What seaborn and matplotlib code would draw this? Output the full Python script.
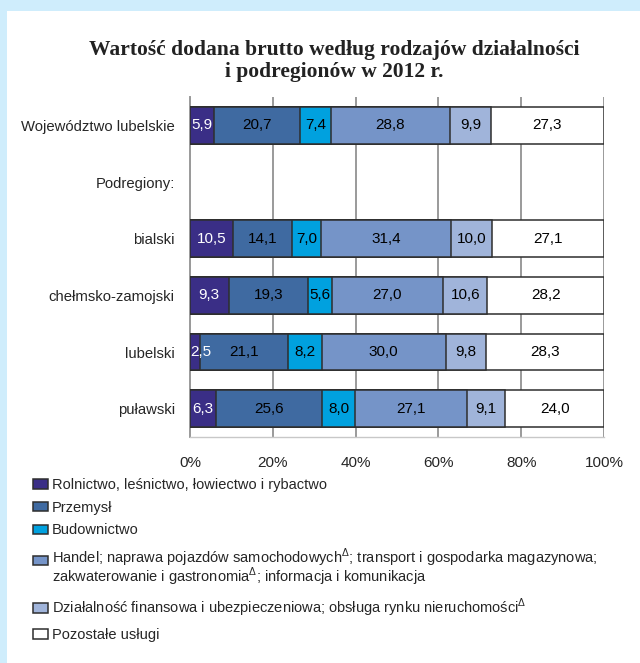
import numpy as np
import pandas as pd
import matplotlib
matplotlib.use("Agg")
import matplotlib.pyplot as plt
from matplotlib.patches import Rectangle
from matplotlib.ticker import FixedLocator, PercentFormatter
import seaborn as sns

# === dane ===
regions = ["Województwo lubelskie", "Podregiony:", "bialski",
           "chełmsko-zamojski", "lubelski", "puławski"]
sectors = [
    "Rolnictwo, leśnictwo, łowiectwo i rybactwo",
    "Przemysł",
    "Budownictwo",
    "Handel; naprawa pojazdów samochodowych$^{\\Delta}$; transport i gospodarka magazynowa;\n"
    "zakwaterowanie i gastronomia$^{\\Delta}$; informacja i komunikacja",
    "Działalność finansowa i ubezpieczeniowa; obsługa rynku nieruchomości$^{\\Delta}$",
    "Pozostałe usługi",
]
rolnictwo = [5.9, np.nan, 10.5, 9.3, 2.5, 6.3]
przemysl = [20.7, np.nan, 14.1, 19.3, 21.1, 25.6]
budownictwo = [7.4, np.nan, 7.0, 5.6, 8.2, 8.0]
handel = [28.8, np.nan, 31.4, 27.0, 30.0, 27.1]
finanse = [9.9, np.nan, 10.0, 10.6, 9.8, 9.1]
pozostale = [27.3, np.nan, 27.1, 28.2, 28.3, 24.0]
colors = ["#3a2e86", "#3f6aa1", "#00a1df", "#7594c8", "#a0b4da", "#ffffff"]
text_colors = ["white", "black", "black", "black", "black", "black"]

values = [rolnictwo, przemysl, budownictwo, handel, finanse, pozostale]
rows = []
for s, vals in zip(sectors, values):
    for r, v in zip(regions, vals):
        rows.append({"region": r, "sector": s, "value": v})
df = pd.DataFrame(rows)
df["cum"] = df.groupby("region", sort=False)["value"].cumsum()
df["mid"] = df["cum"] - df["value"] / 2

# === styl ===
sns.set_style("white")
plt.rcParams["font.family"] = ["Liberation Sans", "DejaVu Sans"]
plt.rcParams["mathtext.fontset"] = "custom"
plt.rcParams["mathtext.rm"] = "Liberation Sans"

fig = plt.figure(figsize=(6.4, 6.63), dpi=100, facecolor="#cfedfc")
fig.patches.append(Rectangle((7 / 640, 0), 1, (663 - 11) / 663,
                             transform=fig.transFigure, facecolor="white",
                             edgecolor="none", zorder=-5))
ax = fig.add_axes([190 / 640, 1 - 437 / 663, 414 / 640, 340 / 663])
ax.set_facecolor("none")

# słupki skumulowane: od ostatniego do pierwszego
for i in reversed(range(len(sectors))):
    sub = df[(df["sector"] == sectors[i]) & df["value"].notna()]
    sns.barplot(data=sub, x="cum", y="region", order=regions, orient="h",
                color=colors[i], saturation=1, edgecolor="#2e2e2e",
                linewidth=1.1, width=0.65, label=sectors[i], ax=ax, zorder=3)
if ax.get_legend() is not None:
    ax.get_legend().remove()

for i in range(len(sectors)):
    sub = df[(df["sector"] == sectors[i]) & df["value"].notna()]
    for _, row in sub.iterrows():
        y = regions.index(row["region"])
        x = max(row["mid"], 2.6)
        ax.text(x, y, f"{row['value']:.1f}".replace(".", ","),
                ha="center", va="center", fontsize=11,
                color=text_colors[i], zorder=5)

ax.set_xlim(0, 100)
ax.set_ylim(5.5, -0.5)
ax.xaxis.set_major_locator(FixedLocator([0, 20, 40, 60, 80, 100]))
ax.xaxis.set_major_formatter(PercentFormatter(decimals=0))
ax.grid(axis="x", color="#9a9a9a", linewidth=1.4, zorder=0)
ax.set_axisbelow(True)
ax.set_xlabel("")
ax.set_ylabel("")

for side in ["top", "right"]:
    ax.spines[side].set_visible(False)
ax.spines["left"].set_color("#9a9a9a")
ax.spines["left"].set_linewidth(1.4)
ax.spines["bottom"].set_color("#c8c8c8")
ax.spines["bottom"].set_linewidth(1.0)

ax.tick_params(axis="x", length=5, width=1.4, color="#9a9a9a",
               labelsize=11, pad=9)
ax.tick_params(axis="y", which="major", length=0, pad=11, labelsize=10.7)
ax.yaxis.set_minor_locator(FixedLocator(np.arange(-0.5, 6, 1.0)))
ax.tick_params(axis="y", which="minor", length=4, width=1.0, color="#bdbdbd")

# tytuł
fig.text(0.523, 1 - 61 / 663,
         "Wartość dodana brutto według rodzajów działalności\ni podregionów w 2012 r.",
         ha="center", va="center", fontsize=15.5, fontweight="bold",
         family=["Liberation Serif", "DejaVu Serif"], linespacing=1.15,
         color="#222222")

# legenda
handles, labels = ax.get_legend_handles_labels()
leg = fig.legend(handles[::-1], labels[::-1], loc="upper left",
                 bbox_to_anchor=(33 / 640, 1 - 478 / 663), frameon=False,
                 fontsize=10.5, handlelength=1.0, handleheight=0.65,
                 handletextpad=0.3, labelspacing=0.6, borderpad=0,
                 borderaxespad=0)
for t in leg.get_texts():
    t.set_linespacing(0.85)
for k, p in enumerate(leg.get_patches()):
    p.set_edgecolor("#2e2e2e")
    p.set_linewidth(1.1)
    if "\n" in labels[::-1][k]:
        p.set_y(p.get_y() + 0.5 * 10.5 * 1.0)

fig.savefig("out.png", dpi=100, facecolor=fig.get_facecolor())
